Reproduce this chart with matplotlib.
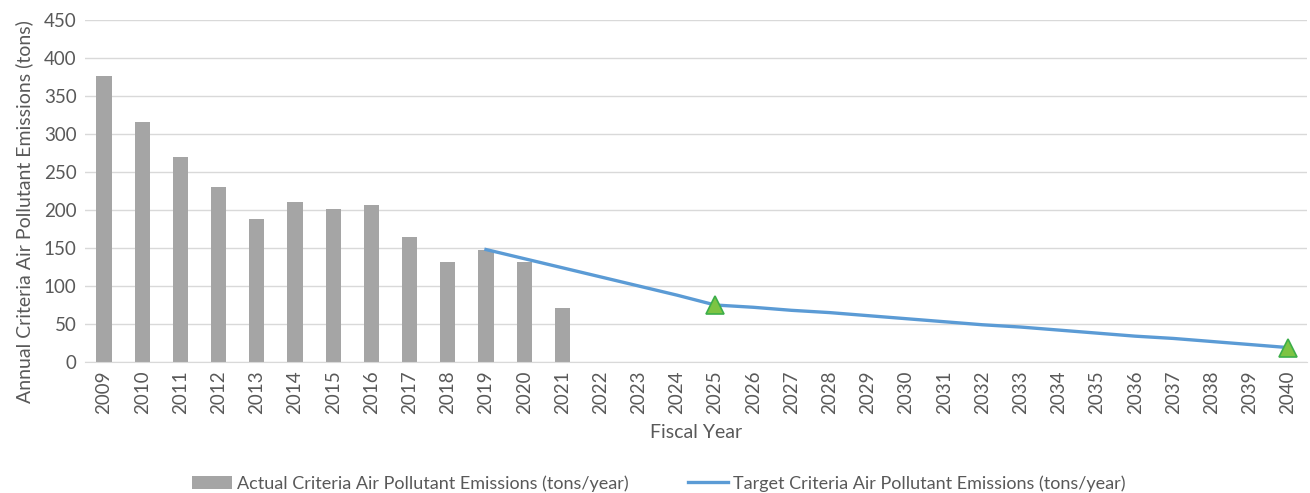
import numpy as np
import matplotlib.pyplot as plt

plt.rcParams['font.family'] = ['Lato', 'DejaVu Sans']

# data
years = [str(y) for y in range(2009, 2041)]
actual_years = ['2009', '2010', '2011', '2012', '2013', '2014', '2015',
                '2016', '2017', '2018', '2019', '2020', '2021']
actual = [376, 316, 270, 230, 188, 210, 201, 206, 164, 131, 148, 132, 71]
target_years = [str(y) for y in range(2019, 2041)]
target = [148, 136, 124, 112, 100, 88, 75, 72, 68, 65, 61, 57, 53, 49, 46,
          42, 38, 34, 31, 27, 23, 19]
milestone_years = ['2025', '2040']

txt = '#595959'
fig = plt.figure(figsize=(13.1, 4.93), dpi=100)
ax = fig.add_axes([85 / 1310, 1 - 362 / 493, 1222 / 1310, 342 / 493])

pos = {y: i for i, y in enumerate(years)}
bars = ax.bar([pos[y] for y in actual_years], actual, width=0.4, color='#A5A5A5',
              zorder=2)
tx = [pos[y] for y in target_years]
mk = [target_years.index(y) for y in milestone_years]
line, = ax.plot(tx, target, color='#5B9BD5', lw=2.4, zorder=3)
ax.plot([tx[i] for i in mk], [target[i] for i in mk], ls='none', marker='^',
        ms=13, mfc='#7DC443', mec='#3DAE4A', mew=1.2, zorder=4)

ax.set_xlim(-0.5, len(years) - 0.5)
ax.set_ylim(0, 450)
ax.set_yticks(range(0, 451, 50))
ax.set_xticks(range(len(years)))
ax.set_xticklabels(years, rotation=90)
ax.tick_params(length=0, colors=txt, labelsize=13.5, pad=6)
ax.grid(axis='y', color='#D9D9D9', lw=1, zorder=0)
for s in ['top', 'right', 'left']:
    ax.spines[s].set_visible(False)
ax.spines['bottom'].set_color('#D9D9D9')

ax.set_xlabel('Fiscal Year', color=txt, fontsize=14, labelpad=7)
ax.set_ylabel('Annual Criteria Air Pollutant Emissions (tons)', color=txt,
              fontsize=14)
ax.yaxis.set_label_coords(-52 / 1222, 0.44)

fig.legend([bars, line],
           ['Actual Criteria Air Pollutant Emissions (tons/year)',
            'Target Criteria Air Pollutant Emissions (tons/year)'],
           loc='lower center', bbox_to_anchor=(0.503, -0.03), ncol=2,
           frameon=False, fontsize=13, labelcolor=txt, columnspacing=3.3,
           handlelength=2.2, handletextpad=0.3)

fig.savefig('out.png', dpi=100)
